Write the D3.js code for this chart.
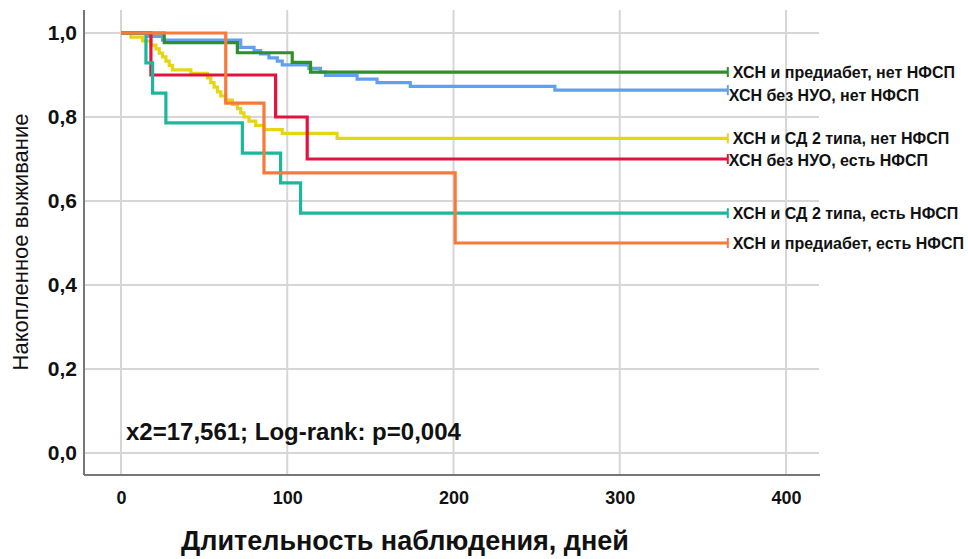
<!DOCTYPE html>
<html>
<head>
<meta charset="utf-8">
<script src="https://cdn.jsdelivr.net/npm/d3@7"></script>
<style>
  body { margin: 0; background: #fff; }
  svg { display: block; font-family: "Liberation Sans", Arial, sans-serif; }
</style>
</head>
<body>
<div id="chart"></div>
<script>
// survival curves, [day, cumulative survival] at each event
const preNoFrac = [[0, 1], [26, 0.977], [70, 0.953], [103, 0.930], [114, 0.907]];
const normNoFrac = [[0, 1], [16, 0.992], [25, 0.983], [72, 0.966], [80, 0.958], [84, 0.950],
  [89, 0.941], [94, 0.933], [97, 0.924], [113, 0.916], [120, 0.907], [123, 0.899],
  [142, 0.890], [154, 0.882], [174, 0.873], [261, 0.864]];
const dmNoFrac = [[0, 1], [6, 0.990], [13, 0.981], [18, 0.971], [21, 0.962], [23, 0.952],
  [25, 0.943], [27, 0.933], [29, 0.923], [31, 0.912], [42, 0.904], [52, 0.893],
  [54, 0.882], [56, 0.871], [58, 0.860], [60, 0.850], [63, 0.840], [67, 0.830],
  [70, 0.820], [72, 0.810], [74, 0.800], [77, 0.790], [81, 0.780], [86, 0.770],
  [97, 0.761], [130, 0.749]];
const normFrac = [[0, 1], [18, 0.9], [93, 0.8], [112, 0.7]];
const dmFrac = [[0, 1], [15, 0.929], [19, 0.857], [27, 0.786], [73, 0.714], [96, 0.643], [108, 0.571]];
const preFrac = [[0, 1], [63, 0.833], [86, 0.667], [201, 0.5]];

const followUp = 365;

const seriesNames = [
  "ХСН без НУО, нет НФСП",
  "ХСН и предиабет, нет НФСП",
  "ХСН и СД 2 типа, нет НФСП",
  "ХСН без НУО, есть НФСП",
  "ХСН и СД 2 типа, есть НФСП",
  "ХСН и предиабет, есть НФСП"
];
const seriesValues = [normNoFrac, preNoFrac, dmNoFrac, normFrac, dmFrac, preFrac];
const seriesColors = ["#62a0ee", "#2f8f2a", "#e6d514", "#e0143f", "#1db89c", "#f87a38"];

const xTicks = [0, 100, 200, 300, 400];
const yTicks = [0, 0.2, 0.4, 0.6, 0.8, 1.0];
const statText = "x2=17,561; Log-rank: p=0,004";
const xTitle = "Длительность наблюдения, дней";
const yTitle = "Накопленное выживание";

// small label nudges so the two close end labels don't collide
const labelNudge = { "ХСН без НУО, нет НФСП": [-4, 5], "ХСН без НУО, есть НФСП": [-4, 1] };

const width = 968, height = 559;
const frame = { left: 84, right: 819, top: 10, bottom: 475 };

const x = d3.scaleLinear().domain([0, 400]).range([121, 786]);
const y = d3.scaleLinear().domain([0, 1]).range([453, 33]);

const svg = d3.select("#chart").append("svg")
  .attr("width", width)
  .attr("height", height);

// grid
svg.append("g")
  .selectAll("line")
  .data(xTicks)
  .join("line")
    .attr("x1", d => x(d)).attr("x2", d => x(d))
    .attr("y1", frame.top).attr("y2", frame.bottom)
    .attr("stroke", "#d6d6d6").attr("stroke-width", 2);

svg.append("g")
  .selectAll("line")
  .data(yTicks)
  .join("line")
    .attr("x1", frame.left).attr("x2", frame.right)
    .attr("y1", d => y(d)).attr("y2", d => y(d))
    .attr("stroke", "#d6d6d6").attr("stroke-width", 2);

// axes
const xAxis = d3.axisBottom(x).tickValues(xTicks).tickSize(0).tickPadding(16).tickFormat(d3.format("d"));
const yAxis = d3.axisLeft(y).tickValues(yTicks).tickSize(0).tickPadding(5)
  .tickFormat(d => d3.format(".1f")(d).replace(".", ","));

svg.append("g")
  .attr("transform", `translate(0,${frame.bottom})`)
  .call(xAxis)
  .call(g => g.select(".domain").remove())
  .call(g => g.selectAll(".tick text")
    .attr("font-size", 18).attr("font-weight", "bold").attr("fill", "#111")
    .attr("font-family", "Liberation Sans, Arial, sans-serif"));

svg.append("g")
  .attr("transform", `translate(${frame.left - 2},0)`)
  .call(yAxis)
  .call(g => g.select(".domain").remove())
  .call(g => g.selectAll(".tick text")
    .attr("font-size", 21).attr("font-weight", "bold").attr("fill", "#111")
    .attr("font-family", "Liberation Sans, Arial, sans-serif"));

svg.append("line")
  .attr("x1", frame.left).attr("x2", frame.left)
  .attr("y1", frame.top).attr("y2", frame.bottom)
  .attr("stroke", "#777").attr("stroke-width", 2);
svg.append("line")
  .attr("x1", frame.left).attr("x2", frame.right + 1)
  .attr("y1", frame.bottom).attr("y2", frame.bottom)
  .attr("stroke", "#777").attr("stroke-width", 2);

// curves
const line = d3.line()
  .x(d => x(d[0]))
  .y(d => y(d[1]))
  .curve(d3.curveStepAfter);

const series = seriesNames.map((name, i) => {
  const vals = seriesValues[i];
  const last = vals[vals.length - 1][1];
  return { name, color: seriesColors[i], pts: vals.concat([[followUp, last]]), last };
});

const curves = svg.append("g");
series.forEach(s => {
  curves.append("path")
    .attr("d", line(s.pts))
    .attr("fill", "none")
    .attr("stroke", s.color)
    .attr("stroke-width", 3.2);
  // censor tick at end of follow-up
  curves.append("line")
    .attr("x1", x(followUp)).attr("x2", x(followUp))
    .attr("y1", y(s.last) - 5).attr("y2", y(s.last) + 5)
    .attr("stroke", s.color).attr("stroke-width", 2);
});

// end labels
svg.append("g")
  .selectAll("text")
  .data(series)
  .join("text")
    .attr("x", d => x(followUp) + 5 + (labelNudge[d.name] || [0, 0])[0])
    .attr("y", d => y(d.last) + (labelNudge[d.name] || [0, 0])[1])
    .attr("dy", "0.35em")
    .attr("font-size", 16)
    .attr("font-weight", "bold")
    .attr("fill", "#111")
    .text(d => d.name);

svg.append("text")
  .attr("x", 126)
  .attr("y", 432)
  .attr("dy", "0.35em")
  .attr("font-size", 24)
  .attr("font-weight", "bold")
  .attr("fill", "#111")
  .text(statText);

svg.append("text")
  .attr("x", 405)
  .attr("y", 541)
  .attr("dy", "0.35em")
  .attr("text-anchor", "middle")
  .attr("font-size", 27)
  .attr("font-weight", "bold")
  .attr("fill", "#111")
  .text(xTitle);

svg.append("text")
  .attr("transform", "translate(20,242) rotate(-90)")
  .attr("dy", "0.35em")
  .attr("text-anchor", "middle")
  .attr("font-size", 22)
  .attr("fill", "#111")
  .text(yTitle);
</script>
</body>
</html>
